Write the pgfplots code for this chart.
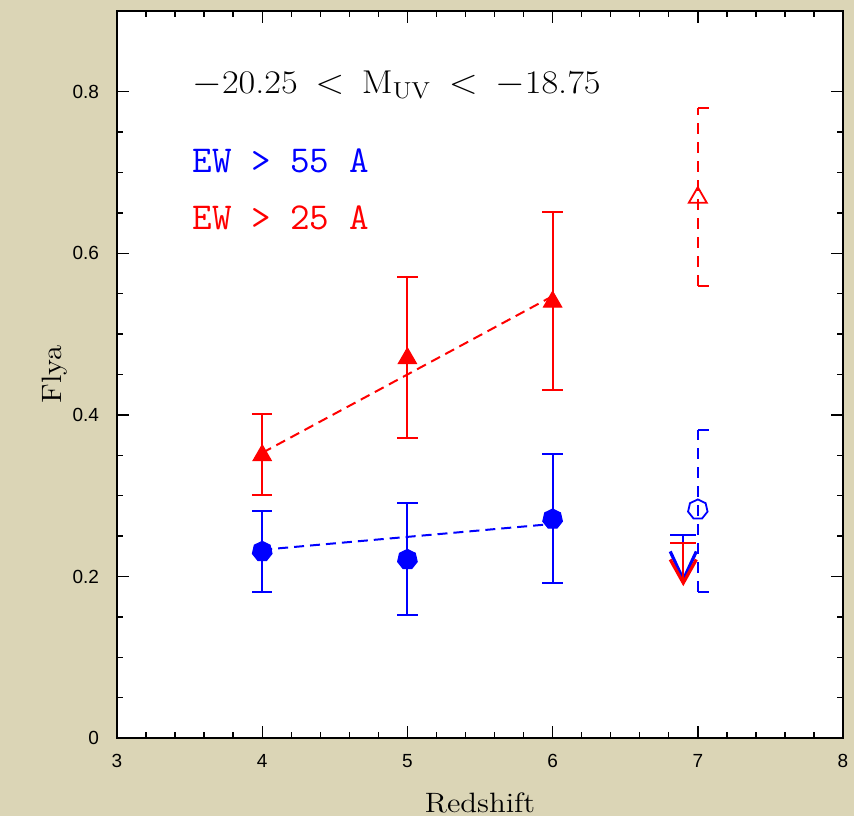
\documentclass[border=0pt]{standalone}
\usepackage{pgfplots}
\pgfplotsset{compat=1.18}
\usepackage{fontspec}
\usepackage{graphicx}
\usetikzlibrary{backgrounds}
\newfontfamily\tickfont{Liberation Sans}
\definecolor{bgc}{RGB}{219,213,182}
\definecolor{pblue}{RGB}{0,0,255}
\definecolor{pred}{RGB}{255,0,0}

\pgfdeclareplotmark{hept}{%
  \pgfpathmoveto{\pgfpointpolar{90}{\pgfplotmarksize}}%
  \pgfpathlineto{\pgfpointpolar{141.43}{\pgfplotmarksize}}%
  \pgfpathlineto{\pgfpointpolar{192.86}{\pgfplotmarksize}}%
  \pgfpathlineto{\pgfpointpolar{244.29}{\pgfplotmarksize}}%
  \pgfpathlineto{\pgfpointpolar{295.71}{\pgfplotmarksize}}%
  \pgfpathlineto{\pgfpointpolar{347.14}{\pgfplotmarksize}}%
  \pgfpathlineto{\pgfpointpolar{38.57}{\pgfplotmarksize}}%
  \pgfpathclose\pgfusepathqfillstroke}
\pgfdeclareplotmark{hepto}{%
  \pgfpathmoveto{\pgfpointpolar{90}{\pgfplotmarksize}}%
  \pgfpathlineto{\pgfpointpolar{141.43}{\pgfplotmarksize}}%
  \pgfpathlineto{\pgfpointpolar{192.86}{\pgfplotmarksize}}%
  \pgfpathlineto{\pgfpointpolar{244.29}{\pgfplotmarksize}}%
  \pgfpathlineto{\pgfpointpolar{295.71}{\pgfplotmarksize}}%
  \pgfpathlineto{\pgfpointpolar{347.14}{\pgfplotmarksize}}%
  \pgfpathlineto{\pgfpointpolar{38.57}{\pgfplotmarksize}}%
  \pgfpathclose\pgfusepathqstroke}

\begin{document}
\begin{tikzpicture}
\begin{axis}[
  at={(0,0)}, anchor=south west,
  scale only axis, width=363pt, height=363.5pt,
  xmin=3, xmax=8, ymin=0, ymax=0.9,
  xtick={3,4,5,6,7,8}, xticklabels={3,4,5,6,7,8}, minor x tick num=4,
  ytick={0,0.2,0.4,0.6,0.8}, yticklabels={0,0.2,0.4,0.6,0.8}, minor y tick num=3,
  tick align=inside, xtick pos=both, ytick pos=both,
  xticklabel pos=lower, yticklabel pos=left,
  major tick length=6pt, minor tick length=2.8pt,
  every tick/.style={black, line width=0.7pt},
  axis line style={black, line width=1.4pt},
  axis background/.style={fill=white},
  ticklabel style={font=\tickfont\fontsize{9.5}{11}\selectfont},
  xticklabel style={yshift=-4.8pt},
  yticklabel style={xshift=-5.5pt},
  xlabel={\scalebox{1.1}[1]{Redshift}},
  ylabel={\scalebox{1.1}[1]{Flya}},
  label style={font=\fontsize{14}{16}\selectfont},
  xlabel style={at={([yshift=-37pt]axis description cs:0.5,0)}, anchor=base},
  ylabel style={at={([xshift=-27.5pt]axis description cs:0,0.5)}, anchor=base},
  unbounded coords=jump, clip=false,
]
% fit lines
\addplot[pblue, line width=1pt, dash pattern=on 5pt off 3pt] coordinates {(4,0.233) (6,0.265)};
\addplot[pred, line width=1pt, dash pattern=on 5pt off 3pt] coordinates {(4,0.353) (6,0.547)};

% blue error bars
\addplot[pblue, line width=1pt] coordinates {
 (4,0.181) (4,0.281) (nan,nan) (3.93,0.181) (4.07,0.181) (nan,nan) (3.93,0.281) (4.07,0.281) (nan,nan)
 (5,0.152) (5,0.291) (nan,nan) (4.93,0.152) (5.07,0.152) (nan,nan) (4.93,0.291) (5.07,0.291) (nan,nan)
 (6,0.192) (6,0.351) (nan,nan) (5.93,0.192) (6.07,0.192) (nan,nan) (5.93,0.351) (6.07,0.351)
};
% red error bars
\addplot[pred, line width=1pt] coordinates {
 (4,0.301) (4,0.401) (nan,nan) (3.93,0.301) (4.07,0.301) (nan,nan) (3.93,0.401) (4.07,0.401) (nan,nan)
 (5,0.371) (5,0.571) (nan,nan) (4.93,0.371) (5.07,0.371) (nan,nan) (4.93,0.571) (5.07,0.571) (nan,nan)
 (6,0.431) (6,0.651) (nan,nan) (5.93,0.431) (6.07,0.431) (nan,nan) (5.93,0.651) (6.07,0.651)
};
% markers
\addplot[pblue, only marks, mark=hept, mark size=5pt, mark options={fill=pblue, line width=0.6pt}] coordinates {(4,0.231) (5,0.221) (6,0.271)};
\addplot[pred, only marks, mark=triangle*, mark size=5.2pt, mark options={fill=pred, line width=0.6pt}] coordinates {(4,0.350) (5,0.470) (6,0.540)};

% z = 7 points (dashed error bars, half caps)
\addplot[pblue, line width=1pt, dash pattern=on 5.5pt off 4pt] coordinates {(7,0.181) (7,0.381)};
\addplot[pblue, line width=1pt] coordinates {(7,0.181) (7.075,0.181) (nan,nan) (7,0.381) (7.075,0.381)};
\addplot[pblue, only marks, mark=hepto, mark size=5pt, mark options={line width=0.9pt}] coordinates {(7,0.283)};
\addplot[pred, line width=1pt, dash pattern=on 5.5pt off 4pt] coordinates {(7,0.56) (7,0.78)};
\addplot[pred, line width=1pt] coordinates {(7,0.56) (7.075,0.56) (nan,nan) (7,0.78) (7.075,0.78)};
\addplot[pred, only marks, mark=triangle, mark size=5.2pt, mark options={line width=0.9pt}] coordinates {(7,0.669)};

% upper limits at z = 6.9
\addplot[pblue, line width=1pt] coordinates {(6.81,0.251) (6.99,0.251) (nan,nan) (6.9,0.251) (6.9,0.196)};
\addplot[pblue, line width=1.6pt, line join=miter] coordinates {(6.81,0.231) (6.9,0.196) (6.99,0.231)};
\addplot[pred, line width=1pt] coordinates {(6.81,0.241) (6.99,0.241) (nan,nan) (6.9,0.241) (6.9,0.192)};
\addplot[pred, line width=1.6pt, line join=miter] coordinates {(6.81,0.221) (6.9,0.192) (6.99,0.221)};

% annotations
\node[anchor=base west, inner sep=0pt, font=\fontsize{16.5}{18}\selectfont] at (axis cs:3.517,0.798)
  {\scalebox{1.1}[1]{$-$20.25\hspace{8pt}$<$\hspace{8pt}M$_{\mathrm{UV}}$\hspace{8pt}$<$\hspace{8pt}$-$18.75}};
\node[anchor=base west, inner sep=0pt, text=pblue, font=\ttfamily\fontsize{19}{21}\selectfont] at (axis cs:3.517,0.6995) {EW > 55 A};
\node[anchor=base west, inner sep=0pt, text=pred, font=\ttfamily\fontsize{19}{21}\selectfont] at (axis cs:3.517,0.629) {EW > 25 A};
\end{axis}
\pgfresetboundingbox
\path[use as bounding box] (-58.5pt,-39pt) rectangle (368.5pt,369pt);
\begin{scope}[on background layer]
\fill[bgc] (-58.5pt,-39pt) rectangle (368.5pt,369pt);
\end{scope}
\end{tikzpicture}
\end{document}
